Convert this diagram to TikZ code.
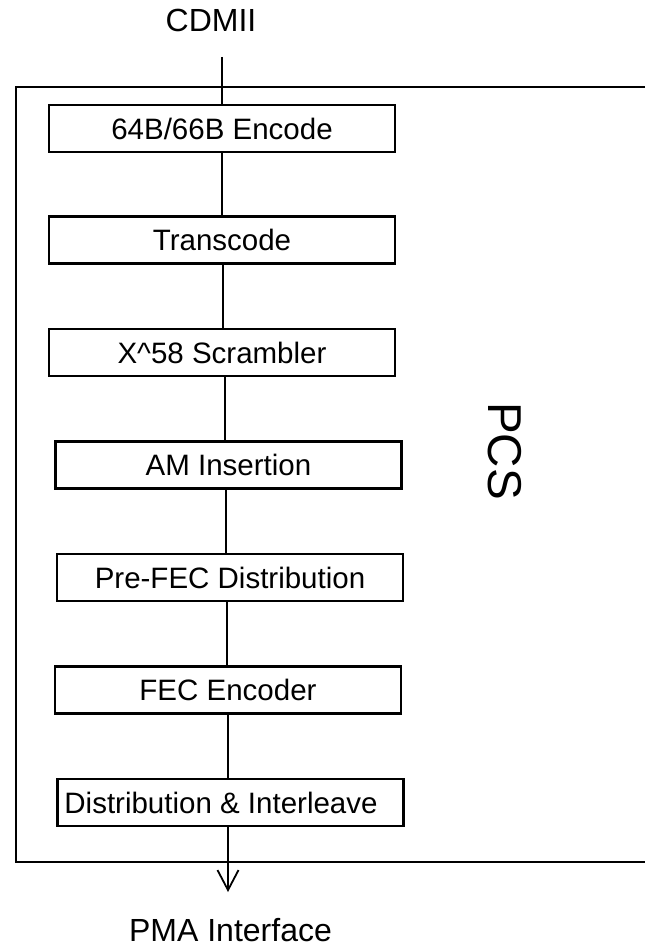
\documentclass[tikz,border=0pt]{standalone}
\usepackage{fontspec}
\setmainfont{Liberation Sans}
\usetikzlibrary{arrows.meta}
\begin{document}
\begin{tikzpicture}[x=1pt,y=-1pt,
  blk/.style={draw, line width=2.2pt, rectangle, inner sep=0pt,
    minimum width=346pt, minimum height=47pt,
    font=\fontsize{29.5}{31}\selectfont},
  lbl/.style={inner sep=0pt, font=\fontsize{32}{34}\selectfont},
  conn/.style={line width=1.8pt},
  frame/.style={line width=2.4pt}]
\useasboundingbox (0,0) rectangle (645,947);
% outer PCS frame (open on the right)
\draw[frame] (645,87) -- (15.7,87) -- (15.7,862) -- (645,862);
% blocks
\node[blk] (b1) at (222,128.5) {64B/66B Encode};
\node[blk] (b2) at (222,240) {Transcode};
\node[blk] (b3) at (222,352.5) {X\^{}58 Scrambler};
\node[blk] (b4) at (228.5,465) {AM Insertion};
\node[blk] (b5) at (230,577.5) {Pre-FEC Distribution};
\node[blk] (b6) at (228,690) {FEC Encoder};
\node[blk] (b7) at (230.5,802.5) {Distribution \& Interleave\hspace*{19pt}};
% labels
\node[lbl, anchor=base] (cdmii) at (211,32) {CDMII};
\node[lbl, anchor=base] (pma) at (230.5,941) {PMA Interface};
\node[inner sep=0pt, rotate=-90, font=\fontsize{47.5}{50}\selectfont] (pcs) at (504.5,451) {PCS};
% connectors
\coordinate (top) at (222,57);
\coordinate (tip) at (228,892);
\draw[conn] (top) -- (top |- b1.north);
\draw[conn] (b1.south) -- (b1.south |- b2.north);
\draw[conn] ([xshift=1pt]b2.south) -- ([xshift=1pt]b2.south |- b3.north);
\draw[conn] ([xshift=3pt]b3.south) -- ([xshift=3pt]b3.south |- b4.north);
\draw[conn] ([xshift=-2.5pt]b4.south) -- ([xshift=-2.5pt]b4.south |- b5.north);
\draw[conn] ([xshift=-3pt]b5.south) -- ([xshift=-3pt]b5.south |- b6.north);
\draw[conn] (b6.south) -- (b6.south |- b7.north);
\draw[conn, -{Straight Barb[length=20pt,width=21pt,line width=1.8pt]}] (tip |- b7.south) -- (tip);
\end{tikzpicture}
\end{document}
